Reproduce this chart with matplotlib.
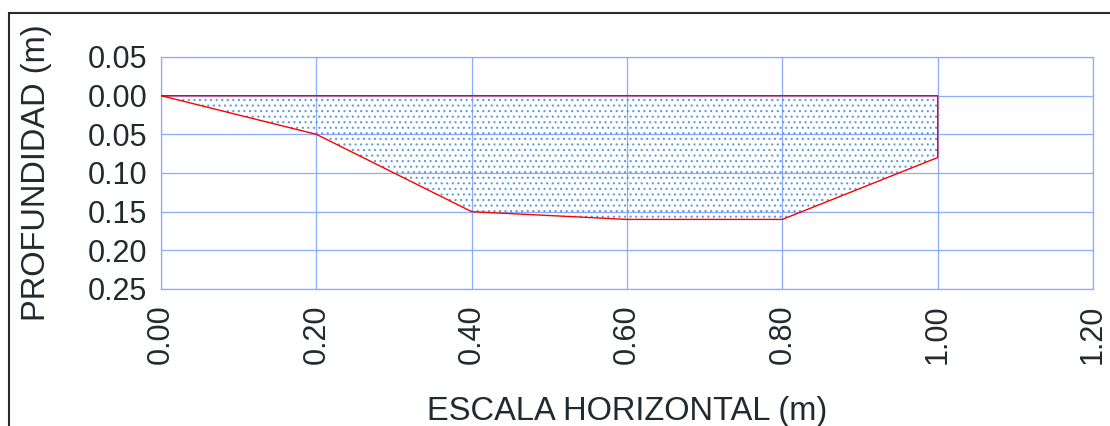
import matplotlib
matplotlib.use("Agg")
import matplotlib.pyplot as plt
import matplotlib.patches as mpatches
import numpy as np

# Data
x_pos = [0.0, 0.2, 0.4, 0.6, 0.8, 1.0]
depth = [0.0, 0.05, 0.15, 0.16, 0.16, 0.08]
x_ticks = [0.0, 0.2, 0.4, 0.6, 0.8, 1.0, 1.2]
y_ticks = [-0.05, 0.0, 0.05, 0.10, 0.15, 0.20, 0.25]
x_label = "ESCALA HORIZONTAL (m)"
y_label = "PROFUNDIDAD (m)"

plt.rcParams['font.family'] = ['Liberation Sans', 'DejaVu Sans']
plt.rcParams['hatch.linewidth'] = 0.8

text_col = '#22292f'
grid_col = '#8eaaff'

fig = plt.figure(figsize=(11.1, 4.26), dpi=100)
ax = fig.add_axes([161/1110, 1-289/426, (1093-161)/1110, (289-57)/426])

# hatched fill
ax.fill_between(x_pos, 0, depth, facecolor='none', edgecolor='#5a9ae0',
                hatch='...', linewidth=0, zorder=2)
# outline
ox = list(x_pos) + [x_pos[-1], x_pos[0]]
oy = list(depth) + [0.0, 0.0]
ax.plot(ox, oy, color='#ff0000', linewidth=1.0, zorder=3)

ax.set_xlim(0, 1.2)
ax.set_ylim(0.25, -0.05)
ax.set_xticks(x_ticks)
ax.set_xticklabels([f"{v:.2f}" for v in x_ticks], rotation=90)
ax.set_yticks(y_ticks)
ax.set_yticklabels([f"{abs(v):.2f}" for v in y_ticks])
ax.tick_params(axis='both', length=0, labelsize=22, colors=text_col)
ax.tick_params(axis='x', pad=11)
ax.tick_params(axis='y', pad=10)
ax.grid(True, color=grid_col, linewidth=0.9, zorder=1)
ax.set_axisbelow(True)
for s in ax.spines.values():
    s.set_color(grid_col)
    s.set_linewidth(0.9)

ax.set_xlabel(x_label, fontsize=23.5, color=text_col)
ax.xaxis.set_label_coords(0.5, -0.46)
ax.set_ylabel(y_label, fontsize=23.5, color=text_col)
ax.yaxis.set_label_coords(-0.117, 0.5)

# outer border
rect = mpatches.Rectangle((8.5/1110, -0.2), 1.2, 1.2 - 12.5/426,
                          transform=fig.transFigure, fill=False,
                          edgecolor='#2a2a2a', linewidth=1.5, clip_on=False)
fig.patches.append(rect)

fig.savefig("out.png", dpi=100)
